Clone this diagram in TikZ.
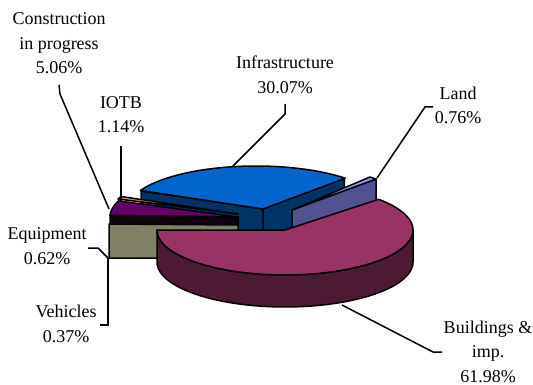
\documentclass[tikz,border=0pt]{standalone}
\usepackage{fontspec}
\setmainfont{Liberation Serif}
\usepackage{tikz}
\definecolor{infratop}{HTML}{0066CC}
\definecolor{infraside}{HTML}{003366}
\definecolor{landtop}{HTML}{9999FF}
\definecolor{landside}{HTML}{525290}
\definecolor{bldtop}{HTML}{993366}
\definecolor{bldside}{HTML}{4D1A33}
\definecolor{ciptop}{HTML}{660066}
\definecolor{cipside}{HTML}{100010}
\definecolor{iotbtop}{HTML}{FF8080}
\definecolor{vehside}{HTML}{808066}

\begin{document}
\begin{tikzpicture}[x=1pt,y=-1pt,
  slice/.style={draw=black,line width=1.5pt,line join=round},
  leader/.style={draw=black,line width=1.5pt},
  lbl/.style={align=center,inner sep=0pt,font=\fontsize{18}{24.5}\selectfont}]
\useasboundingbox (0,0) rectangle (533,385);
\filldraw[slice,fill=infraside] (263,209) -- (141,191) -- (141,223) -- (263,241) -- cycle;
\filldraw[slice,fill=infraside] (263,209) -- (344.4,178.2) -- (344.4,210.2) -- (263,241) -- cycle;
\filldraw[slice,fill=infratop] (263,209) -- plot[domain=45.7:154.5,samples=60] ({256+128*cos(\x)},{209-43*sin(\x)}) -- cycle;
\filldraw[slice,fill=landside] (292,210) -- (376,179) -- (376,211) -- (292,242) -- cycle;
\filldraw[slice,fill=landtop] (292,210) -- (370,177) -- (376,179) -- cycle;
\filldraw[slice,fill=iotbtop] (238,214) -- (118,199) -- (121,196.5) -- cycle;
\filldraw[slice,fill=ciptop] (238,217) -- plot[domain=159:178,samples=30] ({238+128*cos(\x)},{217-45*sin(\x)}) -- cycle;
\filldraw[slice,fill=cipside] (238,217) -- (110,215.4) -- (110,248) -- (238,249) -- cycle;
\filldraw[slice,fill=vehside] (238,225) -- (109,224) -- (109,258) -- (238,258) -- cycle;
\filldraw[slice,fill=bldside] plot[domain=0:-180,samples=60] ({285+128*cos(\x)},{230-45*sin(\x)}) -- plot[domain=-180:0,samples=60] ({285+128*cos(\x)},{262-45*sin(\x)}) -- cycle;
\filldraw[slice,fill=bldtop] (285,230) -- plot[domain=43:-180,samples=80] ({285+128*cos(\x)},{230-45*sin(\x)}) -- cycle;
\node[lbl] (LabelCip) at (59,43.4) {Construction\\in progress\\5.06\%};
\node[lbl] (LabelIotb) at (121,114.7) {IOTB\\1.14\%};
\node[lbl] (LabelInfra) at (285,75) {Infrastructure\\30.07\%};
\node[lbl] (LabelLand) at (458,105.5) {Land\\0.76\%};
\node[lbl] (LabelEquip) at (47,246.4) {Equipment\\0.62\%};
\node[lbl] (LabelVeh) at (66,323.9) {Vehicles\\0.37\%};
\node[lbl] (LabelBld) at (488,351.5) {Buildings \&\\imp.\\61.98\%};
\coordinate (PointCip) at (109,209); \coordinate (BendCip) at (60,94); \coordinate (EndCip) at (59,85);
\coordinate (PointIotb) at (121,201); \coordinate (EndIotb) at (121,146);
\coordinate (PointInfra) at (232,167); \coordinate (BendInfra) at (285,114); \coordinate (EndInfra) at (285,104);
\coordinate (PointLand) at (377,178); \coordinate (BendLand) at (425,107); \coordinate (EndLand) at (433,107);
\coordinate (PointEquip) at (108,258); \coordinate (BendEquip) at (98,248); \coordinate (EndEquip) at (88,248);
\coordinate (PointVeh) at (108,258); \coordinate (BendVeh) at (108,325); \coordinate (EndVeh) at (100,325);
\coordinate (PointBld) at (342,305); \coordinate (BendBld) at (433,352); \coordinate (EndBld) at (442,352);
\draw[leader] (PointCip) -- (BendCip) -- (EndCip);
\draw[leader] (PointIotb) -- (EndIotb);
\draw[leader] (PointInfra) -- (BendInfra) -- (EndInfra);
\draw[leader] (PointLand) -- (BendLand) -- (EndLand);
\draw[leader] (PointEquip) -- (BendEquip) -- (EndEquip);
\draw[leader] (PointVeh) -- (BendVeh) -- (EndVeh);
\draw[leader] (PointBld) -- (BendBld) -- (EndBld);
\end{tikzpicture}
\end{document}
